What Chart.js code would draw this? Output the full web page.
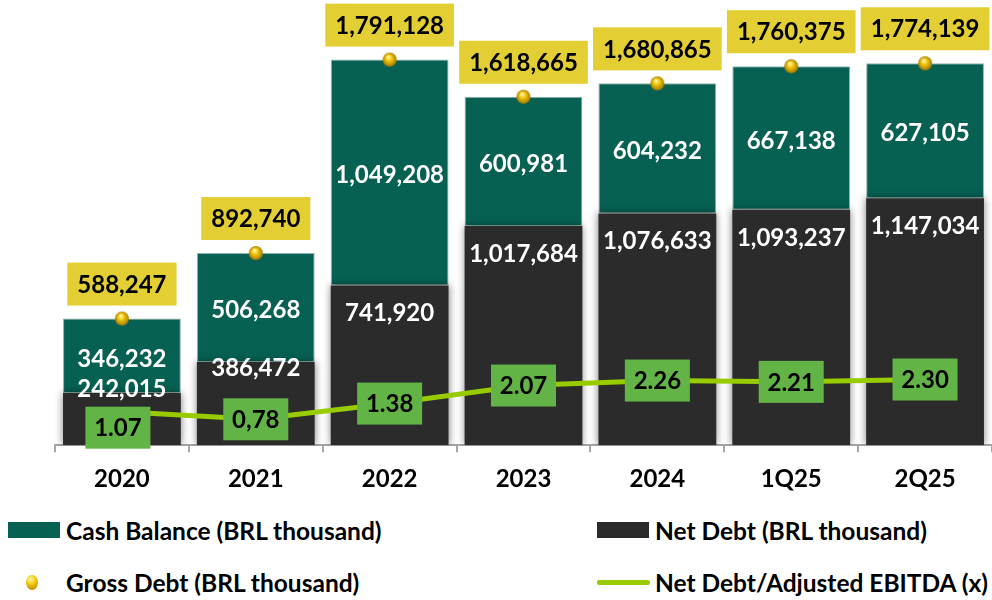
<!DOCTYPE html>
<html>
<head>
<meta charset="utf-8">
<script src="https://cdn.jsdelivr.net/npm/chart.js@4.4.0/dist/chart.umd.min.js"></script>
<style>
  html, body { margin: 0; padding: 0; background: #fff; }
  #wrap { position: relative; width: 992px; height: 600px; font-family: Lato, sans-serif; font-weight: 700; }
  #chartBox { position: absolute; left: 0; top: 0; width: 992px; height: 513px; }
  .legend-item { position: absolute; height: 30px; display: flex; align-items: center; font-size: 24.5px; color: #000; white-space: nowrap; }
  .swatch { width: 52px; height: 16px; margin-right: 6px; }
  .bead { width: 12px; height: 15px; border-radius: 50%; margin-right: 28px;
          background: radial-gradient(circle at 40% 30%, #fff7b0 0%, #f5cc10 35%, #a87800 100%); }
  .stroke { width: 53px; height: 5px; border-radius: 2px; background: #99cc00; margin-right: 5px; }
</style>
</head>
<body>
<div id="wrap">
  <div id="chartBox"><canvas id="debtChart"></canvas></div>
  <div class="legend-item" style="left:8px; top:515px;"><span class="swatch" style="background:#066153"></span>Cash Balance (BRL thousand)</div>
  <div class="legend-item" style="left:597px; top:515px;"><span class="swatch" style="background:#2b2b2b"></span>Net Debt (BRL thousand)</div>
  <div class="legend-item" style="left:26px; top:567px;"><span class="bead"></span>Gross Debt (BRL thousand)</div>
  <div class="legend-item" style="left:597px; top:567px;"><span class="stroke"></span>Net Debt/Adjusted EBITDA (x)</div>
</div>
<script>
const periods = ['2020', '2021', '2022', '2023', '2024', '1Q25', '2Q25'];
const netDebt = [242015, 386472, 741920, 1017684, 1076633, 1093237, 1147034];
const cashBalance = [346232, 506268, 1049208, 600981, 604232, 667138, 627105];
const grossDebt = [588247, 892740, 1791128, 1618665, 1680865, 1760375, 1774139];
const leverage = [1.07, 0.78, 1.38, 2.07, 2.26, 2.21, 2.30];
const leverageLabels = ['1.07', '0,78', '1.38', '2.07', '2.26', '2.21', '2.30'];

const fmt = v => v.toLocaleString('en-US');

// small golden sphere used as the gross debt marker
function makeBead(r) {
  const c = document.createElement('canvas');
  c.width = c.height = r * 2 + 2;
  const g = c.getContext('2d');
  const grad = g.createRadialGradient(r * 0.8 + 1, r * 0.6 + 1, r * 0.1, r + 1, r + 1, r);
  grad.addColorStop(0, '#fff7b0');
  grad.addColorStop(0.35, '#f5cc10');
  grad.addColorStop(1, '#a87800');
  g.fillStyle = grad;
  g.beginPath();
  g.arc(r + 1, r + 1, r, 0, Math.PI * 2);
  g.fill();
  return c;
}

// soft shadow behind the net debt columns
const barShadow = {
  id: 'barShadow',
  beforeDatasetDraw(chart, args) {
    if (args.index !== 0) return;
    const ctx = chart.ctx;
    ctx.save();
    ctx.shadowColor = 'rgba(0,0,0,0.5)';
    ctx.shadowBlur = 8;
  },
  afterDatasetDraw(chart, args) {
    if (args.index !== 0) return;
    chart.ctx.restore();
  }
};

const valueLabels = {
  id: 'valueLabels',
  afterDatasetsDraw(chart) {
    const ctx = chart.ctx;
    const netMeta = chart.getDatasetMeta(0);
    const cashMeta = chart.getDatasetMeta(1);
    const ratioMeta = chart.getDatasetMeta(2);
    const grossMeta = chart.getDatasetMeta(3);
    ctx.save();
    ctx.font = '700 24px Lato';
    ctx.textAlign = 'center';
    ctx.textBaseline = 'middle';

    ctx.fillStyle = '#fff';
    netMeta.data.forEach((bar, i) => {
      const h = bar.base - bar.y;
      const y = h > 130 ? bar.y + 28 : Math.min(bar.y + 6, bar.base - 56);
      ctx.fillText(fmt(netDebt[i]), bar.x, y);
    });
    cashMeta.data.forEach((bar, i) => {
      ctx.fillText(fmt(cashBalance[i]), bar.x, (bar.y + bar.base) / 2 + 3);
    });

    // yellow boxes above the gross debt markers
    grossMeta.data.forEach((pt, i) => {
      const txt = fmt(grossDebt[i]);
      const w = ctx.measureText(txt).width + 20;
      const h = 43;
      const bottom = pt.y - 13;
      ctx.fillStyle = '#e3cf33';
      ctx.fillRect(pt.x - w / 2, bottom - h, w, h);
      ctx.fillStyle = '#000';
      ctx.fillText(txt, pt.x, bottom - h / 2 + 1);
    });

    // green boxes on the leverage line; the first one sits lower to clear the bar label
    ratioMeta.data.forEach((pt, i) => {
      const w = 65, h = 42;
      const cy = pt.y + (i === 0 ? 16 : 0);
      const cx = pt.x - (i === 0 ? 4 : 0);
      ctx.fillStyle = '#62b446';
      ctx.fillRect(cx - w / 2, cy - h / 2, w, h);
      ctx.fillStyle = '#000';
      ctx.fillText(leverageLabels[i], cx, cy + 1);
    });
    ctx.restore();
  }
};

document.fonts.load('700 24px Lato').then(() => {
  const ctx = document.getElementById('debtChart').getContext('2d');
  new Chart(ctx, {
    type: 'bar',
    data: {
      labels: periods,
      datasets: [{
        label: 'Net Debt (BRL thousand)',
        data: netDebt,
        backgroundColor: '#2b2b2b',
        borderWidth: 0,
        barPercentage: 0.88,
        categoryPercentage: 1,
        order: 3
      }, {
        label: 'Cash Balance (BRL thousand)',
        data: cashBalance,
        backgroundColor: '#066153',
        borderColor: '#8fb5ad',
        borderWidth: 1,
        borderSkipped: false,
        barPercentage: 0.88,
        categoryPercentage: 1,
        order: 3
      }, {
        label: 'Net Debt/Adjusted EBITDA (x)',
        type: 'line',
        data: leverage,
        yAxisID: 'y1',
        borderColor: '#99cc00',
        borderWidth: 5,
        pointRadius: 0,
        tension: 0,
        order: 2
      }, {
        label: 'Gross Debt (BRL thousand)',
        type: 'line',
        data: grossDebt,
        stack: 'gross',
        showLine: false,
        pointStyle: makeBead(7),
        pointRadius: 7,
        order: 1
      }]
    },
    options: {
      responsive: true,
      maintainAspectRatio: false,
      animation: false,
      layout: { autoPadding: false, padding: { left: 55, right: 0, top: 0, bottom: 6 } },
      plugins: {
        legend: { display: false },
        tooltip: { enabled: false }
      },
      scales: {
        x: {
          stacked: true,
          grid: {
            offset: true,
            drawOnChartArea: false,
            drawTicks: true,
            tickLength: 7,
            color: '#a6a6a6',
            lineWidth: 2
          },
          border: { display: true, color: '#a6a6a6', width: 2 },
          ticks: {
            color: '#000',
            padding: 13,
            font: { family: 'Lato', size: 24, weight: '700' }
          }
        },
        y: {
          stacked: true,
          display: false,
          min: 0,
          max: 2068000
        },
        y1: {
          display: false,
          min: -0.21,
          max: 16.8
        }
      }
    },
    plugins: [barShadow, valueLabels]
  });
});
</script>
</body>
</html>
